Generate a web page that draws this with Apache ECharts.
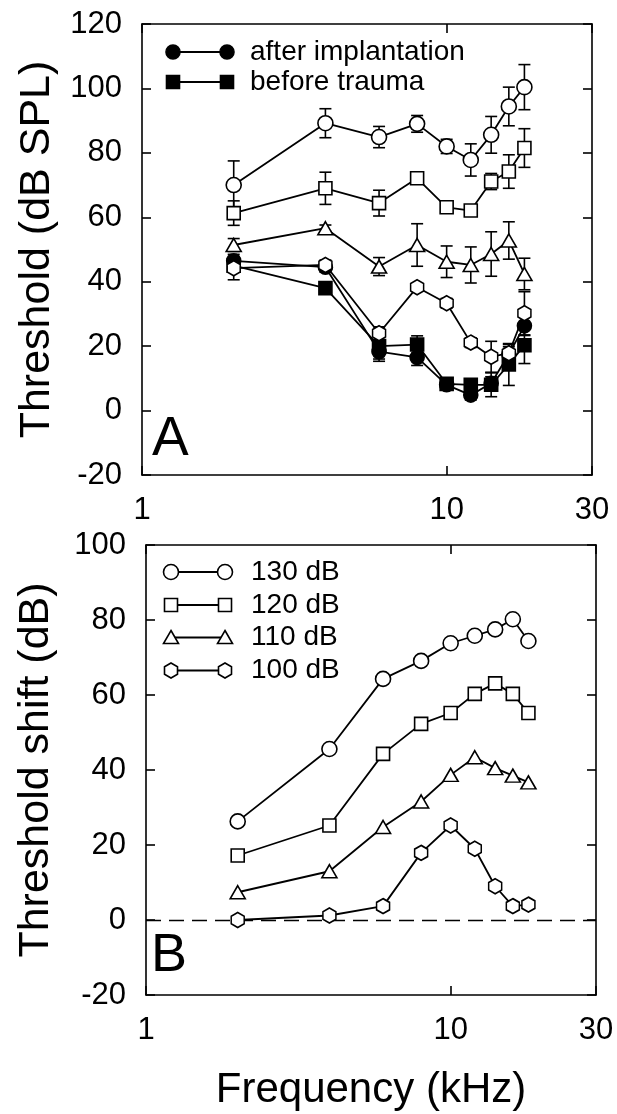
<!DOCTYPE html>
<html><head><meta charset="utf-8">
<script src="https://cdn.jsdelivr.net/npm/echarts@6/dist/echarts.min.js"></script>
<style>html,body{margin:0;padding:0;background:#fff}#c{width:617px;height:1114px}</style>
</head><body><div id="c"></div><script>
// ---------- data ----------
const freqs = [2, 4, 6, 8, 10, 12, 14, 16, 18];           // kHz
// Panel A: thresholds (dB SPL) and error half-widths
const thrAfterImplant = [46.5, 44.5, 18.3, 16.5, 8, 4.8, 8.5, 17.5, 26.3];
const errAfterImplant = [2, 1.5, 3, 2.5, 1.5, 1.5, 2, 3, 3];
const thrBeforeTrauma = [45, 38, 20, 20.5, 8.3, 8, 8, 14.3, 20.3];
const errBeforeTrauma = [2, 1.5, 4, 2.7, 1, 1, 3.7, 6.5, 5.7];
const thr130 = [70, 89.2, 84.9, 89, 82, 77.8, 85.6, 94.4, 100.4];
const err130 = [7.5, 4.5, 3.3, 2.6, 2.2, 5, 5.7, 6, 7];
const thr120 = [61.3, 69, 64.4, 72.1, 63.1, 62.1, 71.1, 74.2, 81.5];
const err120 = [3.8, 5, 4, 1, 1, 1, 2.5, 5.2, 6];
const thr110 = [51.4, 56.6, 44.7, 51.4, 46.2, 45.2, 48.6, 52.8, 42.4];
const err110 = [2, 1, 2.8, 6.6, 4.9, 5.6, 6.9, 5.8, 4.9];
const thr100 = [44.2, 45.2, 24, 38.3, 33.3, 21.1, 16.7, 17.8, 30.2];
const err100 = [3.6, 1.5, 2, 1, 1.5, 1.5, 4.8, 2, 6.7];
// Panel B: threshold shift (dB)
const shift130 = [26.3, 45.6, 64.3, 69.1, 73.8, 75.8, 77.5, 80.2, 74.4];
const shift120 = [17.2, 25.2, 44.3, 52.3, 55.2, 60.3, 63.1, 60.3, 55.2];
const shift110 = [7.4, 13, 24.8, 31.6, 38.7, 43.4, 40.5, 38.5, 36.7];
const shift100 = [0, 1.2, 3.7, 17.9, 25.2, 19, 9, 3.7, 4.1];
// text
const legendA = ['after implantation', 'before trauma'];
const legendB = ['130 dB', '120 dB', '110 dB', '100 dB'];
const yTitleA = 'Threshold (dB SPL)';
const yTitleB = 'Threshold shift (dB)';
const xTitle = 'Frequency (kHz)';

// ---------- styling ----------
const FF = '"Liberation Sans", Arial, Helvetica, sans-serif';
const HEX = 'path://M0,-10L8.66,-5L8.66,5L0,10L-8.66,5L-8.66,-5Z';
const SYM = {
  circle: {symbol: 'circle', size: 15},
  square: {symbol: 'rect', size: 13},
  triangle: {symbol: 'triangle', size: [15, 13]},
  hex: {symbol: HEX, size: [13, 15]},
  fcircle: {symbol: 'circle', size: 14},
  fsquare: {symbol: 'rect', size: 13}
};

function pts(vals) { return freqs.map((f, i) => [f, vals[i]]); }
function errPts(vals, errs) { return freqs.map((f, i) => [f, vals[i] - errs[i], vals[i] + errs[i]]); }

function lineSeries(name, vals, kind, filled, g) {
  return {
    type: 'line', name, xAxisIndex: g * 2, yAxisIndex: g * 2,
    data: pts(vals), symbol: SYM[kind].symbol, symbolSize: SYM[kind].size,
    showAllSymbol: true, z: 3,
    lineStyle: {color: '#000', width: 1.8},
    itemStyle: {color: filled ? '#000' : '#fff', borderColor: '#000', borderWidth: 1.6, opacity: 1},
    emphasis: {disabled: true}
  };
}
function errRender(params, api) {
  const x = api.value(0), lo = api.value(1), hi = api.value(2);
  const p1 = api.coord([x, lo]), p2 = api.coord([x, hi]);
  const w = 6, st = {stroke: '#000', lineWidth: 1.6};
  return {type: 'group', children: [
    {type: 'line', shape: {x1: p1[0], y1: p1[1], x2: p2[0], y2: p2[1]}, style: st},
    {type: 'line', shape: {x1: p1[0] - w, y1: p1[1], x2: p1[0] + w, y2: p1[1]}, style: st},
    {type: 'line', shape: {x1: p2[0] - w, y1: p2[1], x2: p2[0] + w, y2: p2[1]}, style: st}
  ]};
}
function errSeries(vals, errs) {
  return {type: 'custom', xAxisIndex: 0, yAxisIndex: 0, z: 1, silent: true,
    data: errPts(vals, errs), encode: {x: 0, y: [1, 2]}, renderItem: errRender};
}

const axLine = {show: true, onZero: false, lineStyle: {color: '#000', width: 1.6}};
const axTick = {show: true, inside: true, length: 9, lineStyle: {color: '#000', width: 1.6}};
function xAx(g, pos, labels, extra) {
  return Object.assign({
    type: 'log', logBase: 10, gridIndex: g, min: 1, max: 30, position: pos,
    axisLine: axLine, axisTick: axTick, minorTick: {show: false},
    splitLine: {show: false}, minorSplitLine: {show: false},
    axisLabel: {show: labels, fontSize: 31, color: '#000', fontFamily: FF, margin: 20}
  }, extra || {});
}
function yAx(g, pos, min, max, labels, extra) {
  return Object.assign({
    type: 'value', gridIndex: g, min, max, interval: 20, position: pos,
    axisLine: axLine, axisTick: axTick, splitLine: {show: false},
    axisLabel: {show: labels, fontSize: 31, color: '#000', fontFamily: FF, margin: 20}
  }, extra || {});
}

// legend drawn as graphics
function marker(kind, cx, cy, filled) {
  const style = {fill: filled ? '#000' : '#fff', stroke: '#000', lineWidth: 1.6};
  if (kind === 'circle' || kind === 'fcircle') return {type: 'circle', shape: {cx, cy, r: kind === 'circle' ? 7.5 : 7}, style, z: 10};
  if (kind === 'square' || kind === 'fsquare') return {type: 'rect', shape: {x: cx - 6.5, y: cy - 6.5, width: 13, height: 13}, style, z: 10};
  if (kind === 'triangle') return {type: 'polygon', shape: {points: [[cx, cy - 7], [cx + 7.5, cy + 6], [cx - 7.5, cy + 6]]}, style, z: 10};
  return {type: 'polygon', shape: {points: [[cx, cy - 7.5], [cx + 6.5, cy - 3.75], [cx + 6.5, cy + 3.75], [cx, cy + 7.5], [cx - 6.5, cy + 3.75], [cx - 6.5, cy - 3.75]]}, style, z: 10};
}
function legendRow(x1, x2, y, kind, filled, text, tx) {
  return [
    {type: 'line', shape: {x1, y1: y, x2, y2: y}, style: {stroke: '#000', lineWidth: 1.8}, z: 9},
    marker(kind, x1, y, filled), marker(kind, x2, y, filled),
    {type: 'text', x: tx, y: y, z: 10, style: {text, fontSize: 28, fontFamily: FF, fill: '#000', verticalAlign: 'middle', align: 'left'}}
  ];
}
const graphics = [].concat(
  legendRow(173, 227, 52, 'fcircle', true, legendA[0], 250),
  legendRow(173, 227, 82, 'fsquare', true, legendA[1], 250),
  legendRow(171, 225, 572, 'circle', false, legendB[0], 251),
  legendRow(171, 225, 605, 'square', false, legendB[1], 251),
  legendRow(171, 225, 637.5, 'triangle', false, legendB[2], 251),
  legendRow(171, 225, 670.5, 'hex', false, legendB[3], 251),
  [
    {type: 'text', x: 152, y: 440, z: 10, style: {text: 'A', fontSize: 55, fontFamily: FF, fill: '#000', verticalAlign: 'middle'}},
    {type: 'text', x: 151, y: 956, z: 10, style: {text: 'B', fontSize: 54, fontFamily: FF, fill: '#000', verticalAlign: 'middle'}}
  ]
);

const option = {
  animation: false,
  backgroundColor: '#fff',
  grid: [
    {left: 142, top: 24, width: 450, height: 451},
    {left: 146, top: 545, width: 450, height: 450}
  ],
  xAxis: [
    xAx(0, 'bottom', true),
    xAx(0, 'top', false),
    xAx(1, 'bottom', true, {name: xTitle, nameLocation: 'middle', nameGap: 74,
      nameTextStyle: {fontSize: 42, color: '#000', fontFamily: FF}}),
    xAx(1, 'top', false)
  ],
  yAxis: [
    yAx(0, 'left', -20, 120, true, {name: yTitleA, nameLocation: 'middle', nameGap: 83,
      nameTextStyle: {fontSize: 43, color: '#000', fontFamily: FF}}),
    yAx(0, 'right', -20, 120, false),
    yAx(1, 'left', -20, 100, true, {name: yTitleB, nameLocation: 'middle', nameGap: 88,
      nameTextStyle: {fontSize: 43, color: '#000', fontFamily: FF}}),
    yAx(1, 'right', -20, 100, false)
  ],
  series: [
    errSeries(thrBeforeTrauma, errBeforeTrauma),
    errSeries(thrAfterImplant, errAfterImplant),
    errSeries(thr100, err100),
    errSeries(thr110, err110),
    errSeries(thr120, err120),
    errSeries(thr130, err130),
    lineSeries(legendA[1], thrBeforeTrauma, 'fsquare', true, 0),
    lineSeries(legendA[0], thrAfterImplant, 'fcircle', true, 0),
    lineSeries('A 100 dB', thr100, 'hex', false, 0),
    lineSeries('A 110 dB', thr110, 'triangle', false, 0),
    lineSeries('A 120 dB', thr120, 'square', false, 0),
    lineSeries('A 130 dB', thr130, 'circle', false, 0),
    Object.assign(lineSeries(legendB[3], shift100, 'hex', false, 1), {
      markLine: {silent: true, symbol: 'none', label: {show: false}, z: 1,
        lineStyle: {type: [15, 8], color: '#000', width: 1.4}, emphasis: {disabled: true},
        data: [{yAxis: 0}]}
    }),
    lineSeries(legendB[2], shift110, 'triangle', false, 1),
    lineSeries(legendB[1], shift120, 'square', false, 1),
    lineSeries(legendB[0], shift130, 'circle', false, 1)
  ],
  graphic: graphics
};
const chart = echarts.init(document.getElementById('c'), null, {renderer: 'canvas'});
chart.setOption(option);
</script></body></html>
